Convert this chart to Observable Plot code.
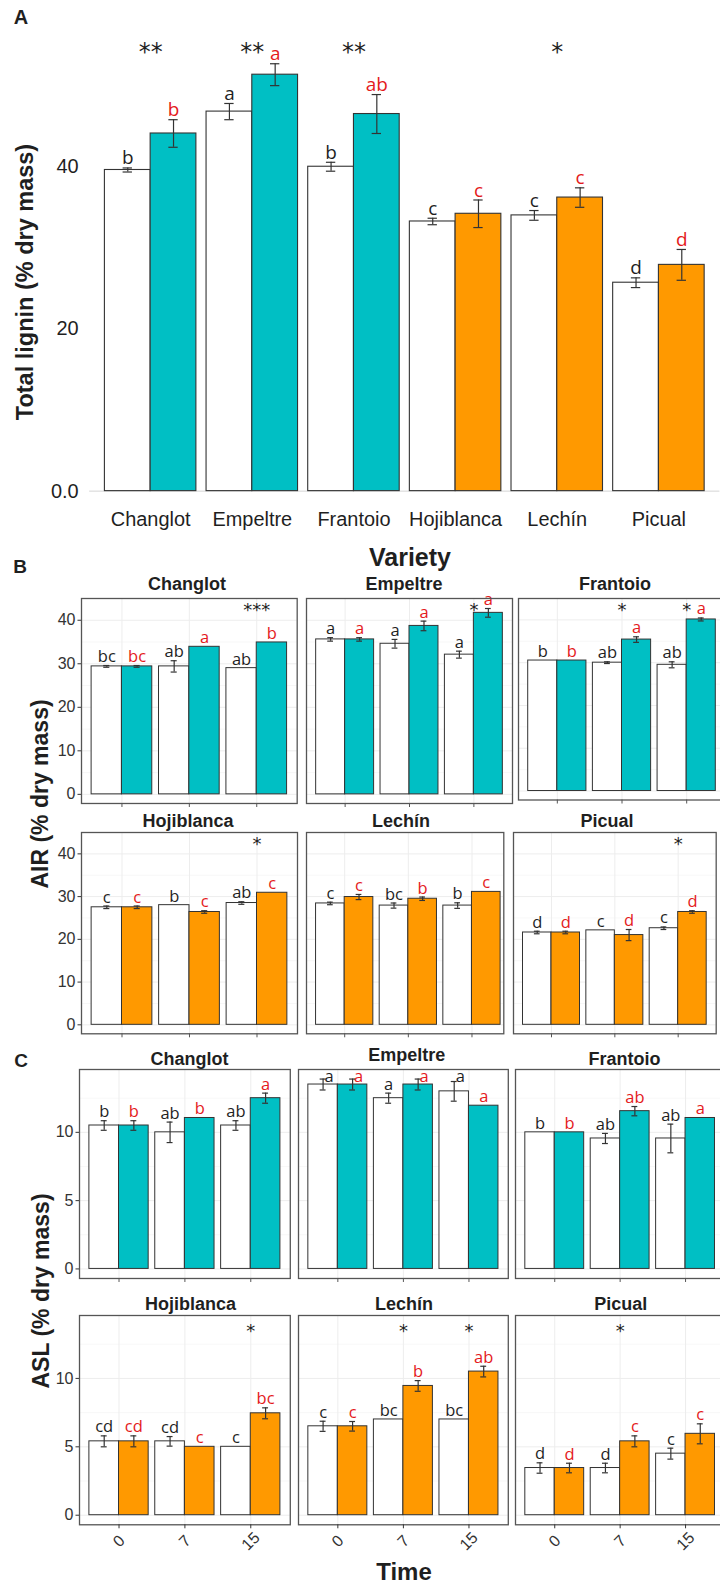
<!DOCTYPE html>
<html>
<head>
<meta charset="utf-8">
<script src="https://cdn.jsdelivr.net/npm/d3@7"></script>
<script src="https://cdn.jsdelivr.net/npm/@observablehq/plot@0.6"></script>
<style>
  body { margin: 0; background: #fff; }
  #fig { position: relative; width: 720px; height: 1585px; overflow: hidden; background: #fff;
         font-family: "Liberation Sans", Arial, sans-serif; color: #1f1f1f; }
  #fig svg { position: absolute; overflow: visible; }
  .lbl { position: absolute; white-space: nowrap; line-height: 1; transform: translate(-50%, -50%); }
  .bold { font-weight: bold; }
  .vert { transform: translate(-50%, -50%) rotate(-90deg); }
</style>
</head>
<body>
<div id="fig"></div>
<script>
// ---- Data ----
const varieties = ["Changlot", "Empeltre", "Frantoio", "Hojiblanca", "Lechín", "Picual"];
const varietyGroup = [0, 0, 0, 1, 1, 1];
const times = ["0", "7", "15"];

// A: total lignin (% dry mass), control vs treated
const ligninControl = [39.6, 46.8, 40.0, 33.25, 34.0, 25.7];
const ligninControlErr = [0.25, 1.0, 0.55, 0.4, 0.6, 0.6];
const ligninTreated = [44.1, 51.35, 46.5, 34.2, 36.2, 27.9];
const ligninTreatedErr = [1.7, 1.35, 2.4, 1.7, 1.2, 1.9];
const ligninControlLetters = ["b", "a", "b", "c", "c", "d"];
const ligninTreatedLetters = ["b", "a", "ab", "c", "c", "d"];
const ligninStars = ["**", "**", "**", "", "*", ""];

// B: AIR (% dry mass) by variety and time
const airControl = [
  [29.4, 29.4, 29.0], [35.6, 34.6, 32.1], [30.5, 30.0, 29.5],
  [27.5, 28.0, 28.5], [28.4, 27.9, 27.9], [21.6, 22.1, 22.6]];
const airControlErr = [
  [0.2, 1.3, 0], [0.4, 1.0, 0.8], [0, 0.2, 0.7],
  [0.3, 0, 0.3], [0.3, 0.6, 0.65], [0.3, 0, 0.3]];
const airTreated = [
  [29.4, 33.9, 34.9], [35.6, 38.7, 41.7], [30.5, 35.4, 40.1],
  [27.5, 26.4, 30.9], [29.9, 29.5, 31.1], [21.6, 21.0, 26.4]];
const airTreatedErr = [
  [0.2, 0, 0], [0.4, 1.1, 1.0], [0, 0.65, 0.35],
  [0.3, 0.3, 0], [0.6, 0.4, 0], [0.3, 1.3, 0.3]];
const airControlLetters = [
  ["bc", "ab", "ab"], ["a", "a", "a"], ["b", "ab", "ab"],
  ["c", "b", "ab"], ["c", "bc", "b"], ["d", "c", "c"]];
const airTreatedLetters = [
  ["bc", "a", "b"], ["a", "a", "a"], ["b", "a", "a"],
  ["c", "c", "c"], ["c", "b", "c"], ["d", "d", "d"]];
const airStars = [
  ["", "", "***"], ["", "", "*"], ["", "*", "*"],
  ["", "", "*"], ["", "", ""], ["", "", "*"]];

// C: ASL (% dry mass) by variety and time
const aslControl = [
  [10.5, 10.0, 10.5], [13.5, 12.5, 13.0], [10.0, 9.55, 9.55],
  [5.4, 5.4, 5.0], [6.5, 7.0, 7.0], [3.45, 3.45, 4.5]];
const aslControlErr = [
  [0.35, 0.75, 0.35], [0.4, 0.37, 0.72], [0, 0.37, 1.05],
  [0.4, 0.35, 0], [0.37, 0, 0], [0.38, 0.35, 0.4]];
const aslTreated = [
  [10.5, 11.05, 12.5], [13.5, 13.5, 11.95], [10.0, 11.55, 11.05],
  [5.4, 5.0, 7.45], [6.5, 9.45, 10.5], [3.45, 5.4, 5.95]];
const aslTreatedErr = [
  [0.35, 0, 0.37], [0.4, 0.4, 0], [0, 0.34, 0],
  [0.4, 0, 0.4], [0.35, 0.39, 0.39], [0.35, 0.4, 0.73]];
const aslControlLetters = [
  ["b", "ab", "ab"], ["a", "a", "a"], ["b", "ab", "ab"],
  ["cd", "cd", "c"], ["c", "bc", "bc"], ["d", "d", "c"]];
const aslTreatedLetters = [
  ["b", "b", "a"], ["a", "a", "a"], ["b", "ab", "a"],
  ["cd", "c", "bc"], ["c", "b", "ab"], ["d", "c", "c"]];
const aslStars = [
  ["", "", ""], ["", "", ""], ["", "", ""],
  ["", "", "*"], ["", "*", "*"], ["", "*", ""]];

// ---- Styling ----
const groupFill = ["#00bfc4", "#ff9900"];
const RED = "#e41a1c", INK = "#1f1f1f", EDGE = "#333333", BOX = "#555555";
const LETTER_FONT = "'Open Sans', sans-serif";
const STAR_FONT = "'DejaVu Sans', sans-serif";
const fig = document.getElementById("fig");

function addLabel(text, x, y, size, cls = "", color = INK) {
  const el = document.createElement("div");
  el.className = "lbl " + cls;
  el.textContent = text;
  el.style.left = x + "px";
  el.style.top = y + "px";
  el.style.fontSize = size + "px";
  el.style.color = color;
  fig.appendChild(el);
}

function placeSvg(svg, left, top) {
  svg.style.left = left + "px";
  svg.style.top = top + "px";
  fig.appendChild(svg);
}

// Dodged control / treated bars around each category index
function dodgeRows(ctrl, ctrlErr, trt, trtErr, ctrlLet, trtLet, fill, labelCap = Infinity) {
  const rows = [];
  ctrl.forEach((v, i) => {
    rows.push({i, treated: false, value: v, err: ctrlErr[i], letter: ctrlLet[i], x1: i - 0.45, x2: i, fill: "#ffffff"});
    rows.push({i, treated: true, value: trt[i], err: trtErr[i], letter: trtLet[i], x1: i, x2: i + 0.45, fill: fill(i)});
  });
  rows.forEach(d => {
    d.xc = (d.x1 + d.x2) / 2;
    d.top = d.value + d.err;
    d.low = d.value - d.err;
    // letters that would run into the strip title sit beside the error bar instead
    d.labelY = Math.min(d.top, labelCap);
    d.labelDx = d.top > labelCap && d.err > 0.3 ? 6 : 0;
  });
  return rows;
}

function barMarks(rows, letterSize, cap, strokeW) {
  const withErr = rows.filter(d => d.err > 0);
  return [
    Plot.rect(rows, {x1: "x1", x2: "x2", y1: 0, y2: "value", fill: "fill", stroke: EDGE, strokeWidth: strokeW}),
    Plot.ruleX(withErr, {x: "xc", y1: "low", y2: "top", stroke: EDGE, strokeWidth: 1.2}),
    Plot.ruleY(withErr, {y: "top", x1: d => d.xc - cap, x2: d => d.xc + cap, stroke: EDGE, strokeWidth: 1.2}),
    Plot.ruleY(withErr, {y: "low", x1: d => d.xc - cap, x2: d => d.xc + cap, stroke: EDGE, strokeWidth: 1.2}),
    ...[0, 6].map(shift => Plot.text(rows.filter(d => d.labelDx === shift), {
      x: "xc", y: "labelY", text: "letter", fill: d => d.treated ? RED : INK,
      lineAnchor: "bottom", dy: -3.5, dx: shift, fontSize: letterSize, fontFamily: LETTER_FONT}))
  ];
}

// ---- Panel A: total lignin by variety ----
{
  const rows = dodgeRows(ligninControl, ligninControlErr, ligninTreated, ligninTreatedErr,
    ligninControlLetters, ligninTreatedLetters, i => groupFill[varietyGroup[i]]);
  const stars = ligninStars.map((s, i) => ({i, s}));
  const svg = Plot.plot({
    width: 722, height: 540,
    marginLeft: 89.4, marginRight: 0.6, marginTop: 30, marginBottom: 48,
    x: {domain: [-0.6, 5.6], label: null},
    y: {domain: [0, 56.81], label: null},
    color: {type: "identity"},
    style: {background: "transparent", fontFamily: "'Liberation Sans', Arial, sans-serif", overflow: "visible"},
    marks: [
      Plot.ruleY([0], {stroke: "#d4d4d4"}),
      ...barMarks(rows, 19, 0.046, 1.1),
      Plot.text(stars, {x: "i", y: 53.2, text: "s", lineAnchor: "bottom", fontSize: 24, fontFamily: STAR_FONT, fill: INK}),
      Plot.axisX({ticks: d3.range(varieties.length), tickFormat: i => varieties[i], tickSize: 0, tickPadding: 21,
        fontSize: 20, label: null, color: INK}),
      Plot.axisY({ticks: [0, 20, 40], tickFormat: v => v === 0 ? "0.0" : String(v), tickSize: 0, tickPadding: 11,
        fontSize: 20, label: null, color: INK})
    ]
  });
  placeSvg(svg, 0, 0);
}

// ---- Faceted panels (B and C) ----
function facetPanel(p) {
  const k = p.index;
  const rows = dodgeRows(p.ctrl[k], p.ctrlErr[k], p.trt[k], p.trtErr[k], p.ctrlLet[k], p.trtLet[k],
    () => groupFill[varietyGroup[k]], p.labelCap);
  const stars = p.stars[k].map((s, i) => ({i, s})).filter(d => d.s);
  const mL = p.showY ? 45 : 6, mR = 6, mT = 26, mB = p.showX ? 46 : 10;
  const boxW = p.right - p.left;
  const xDomain = p.xDomain || [-0.6, 2.6];
  const marks = [
    Plot.ruleY(p.minor, {stroke: "#f1f1f1", strokeWidth: 0.6}),
    Plot.ruleY(p.yTicks, {stroke: "#ededed"}),
    Plot.ruleX([0, 1, 2], {stroke: "#ededed"}),
    ...barMarks(rows, 16.5, 0.045, 1),
    Plot.text(stars, {x: "i", y: p.starLevel, text: "s", lineAnchor: "bottom", fontSize: 18, fontFamily: STAR_FONT, fill: INK}),
    Plot.frame({stroke: BOX, strokeWidth: 1.3}),
    p.showX
      ? Plot.axisX({ticks: [0, 1, 2], tickFormat: i => times[i], tickSize: 4, tickPadding: 12.5, tickRotate: -45,
          textAnchor: "middle", lineAnchor: "middle", fontSize: 16, label: null, color: "#333"})
      : Plot.axisX({ticks: [0, 1, 2], tickFormat: () => "", tickSize: 4, label: null, color: BOX})
  ];
  if (p.showY) {
    marks.push(Plot.axisY({ticks: p.yTicks, tickSize: 3.5, tickPadding: 2.5, fontSize: 16, label: null, color: "#333"}));
  }
  const svg = Plot.plot({
    width: boxW + mL + mR, height: p.height + mT + mB,
    marginLeft: mL, marginRight: mR, marginTop: mT, marginBottom: mB,
    x: {domain: xDomain, label: null},
    y: p.showY ? {domain: p.yDomain, label: null} : {domain: p.yDomain, label: null, axis: null},
    color: {type: "identity"},
    style: {background: "transparent", fontFamily: "'Liberation Sans', Arial, sans-serif", overflow: "visible"},
    marks
  });
  placeSvg(svg, p.left - mL, p.top - mT);
  addLabel(varieties[k], p.stripX, p.stripY, 18, "bold");
}

const airBase = {ctrl: airControl, ctrlErr: airControlErr, trt: airTreated, trtErr: airTreatedErr,
  ctrlLet: airControlLetters, trtLet: airTreatedLetters, stars: airStars,
  yDomain: [-2.1, 45], yTicks: [0, 10, 20, 30, 40], minor: [5, 15, 25, 35], starLevel: 40.9};
const aslBase = {ctrl: aslControl, ctrlErr: aslControlErr, trt: aslTreated, trtErr: aslTreatedErr,
  ctrlLet: aslControlLetters, trtLet: aslTreatedLetters, stars: aslStars,
  yDomain: [-0.7, 14.6], yTicks: [0, 5, 10], minor: [2.5, 7.5, 12.5], starLevel: 13.0, labelCap: 13.4};

const airLayout = [
  {left: 81.3, right: 297, top: 597.5, height: 205, showY: true, stripX: 187, stripY: 584},
  {left: 306, right: 512, top: 597.5, height: 205, stripX: 404, stripY: 584},
  {left: 518, right: 725, top: 597.5, height: 201.5, stripX: 615, stripY: 584},
  {left: 81, right: 297, top: 831.7, height: 201.3, showY: true, stripX: 188, stripY: 821},
  {left: 306, right: 503.3, top: 831.7, height: 201.3, xDomain: [-0.6, 2.5], stripX: 401, stripY: 821},
  {left: 513.3, right: 716, top: 831.7, height: 201.3, stripX: 607, stripY: 821}
];
const aslLayout = [
  {left: 79.4, right: 290.2, top: 1069.3, height: 209, showY: true, stripX: 189.6, stripY: 1059.3},
  {left: 297.5, right: 507.3, top: 1069.3, height: 209, stripX: 406.8, stripY: 1055},
  {left: 515.2, right: 724.5, top: 1069.3, height: 209, stripX: 624.4, stripY: 1059.3},
  {left: 79.4, right: 290.2, top: 1315, height: 209.3, showY: true, showX: true, stripX: 190.5, stripY: 1304},
  {left: 297.5, right: 507.3, top: 1315, height: 209.3, showX: true, stripX: 404, stripY: 1304},
  {left: 515.2, right: 724.5, top: 1315, height: 209.3, showX: true, stripX: 620.7, stripY: 1304}
];

airLayout.forEach((l, index) => facetPanel({...airBase, ...l, index}));
aslLayout.forEach((l, index) => facetPanel({...aslBase, ...l, index}));

// ---- Titles and panel letters ----
addLabel("A", 21, 17, 20, "bold");
addLabel("B", 20, 566, 19, "bold");
addLabel("C", 21, 1059.5, 19, "bold");
addLabel("Total lignin (% dry mass)", 26, 282, 23.5, "bold vert");
addLabel("AIR (% dry mass)", 40, 794, 23, "bold vert");
addLabel("ASL (% dry mass)", 41, 1291, 23, "bold vert");
addLabel("Variety", 410, 557, 25, "bold");
addLabel("Time", 404, 1571.5, 24, "bold");
</script>
</body>
</html>
